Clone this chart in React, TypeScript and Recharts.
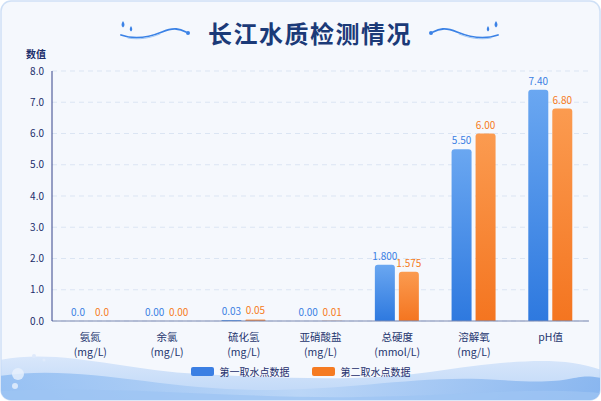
import React from 'react'
import { BarChart, Bar, XAxis, YAxis, CartesianGrid, Legend, LabelList } from 'recharts'

const categories = ['氨氮', '余氯', '硫化氢', '亚硝酸盐', '总硬度', '溶解氧', 'pH值']
const units = ['(mg/L)', '(mg/L)', '(mg/L)', '(mg/L)', '(mmol/L)', '(mg/L)', '']
const site1 = [0.0, 0.0, 0.03, 0.0, 1.8, 5.5, 7.4]
const site2 = [0.0, 0.0, 0.05, 0.01, 1.575, 6.0, 6.8]
const labelDecimals = [1, 2, 2, 2, 3, 2, 2]
const yTicks = [0, 1, 2, 3, 4, 5, 6, 7, 8]
const seriesNames = ['第一取水点数据', '第二取水点数据']

const data = categories.map((name, i) => ({
  name,
  site1: site1[i],
  site2: site2[i],
  label1: site1[i].toFixed(labelDecimals[i]),
  label2: site2[i].toFixed(labelDecimals[i]),
}))

const FONT = '"Noto Sans CJK SC", "Noto Sans", sans-serif'
const NAVY = '#1c2e6b'
const BLUE = '#3b7fe3'
const ORANGE = '#f57b22'

function CategoryTick(props: any) {
  const { x, y, payload, index } = props
  return (
    <g transform={`translate(${x},${y})`}>
      <text x={0} y={12} textAnchor="middle" fontSize={10.5} fill="#24356e" fontFamily={FONT}>
        {payload.value}
      </text>
      {units[index] ? (
        <text x={0} y={27} textAnchor="middle" fontSize={10.5} fill="#24356e" fontFamily={FONT}>
          {units[index]}
        </text>
      ) : null}
    </g>
  )
}

function LegendContent() {
  const colors = [BLUE, ORANGE]
  return (
    <div style={{ display: 'flex', justifyContent: 'center', gap: 22, height: 16, alignItems: 'center', paddingLeft: 4 }}>
      {seriesNames.map((n, i) => (
        <div key={n} style={{ display: 'flex', alignItems: 'center', gap: 6 }}>
          <div style={{ width: 23, height: 9, borderRadius: 2, background: colors[i] }} />
          <span style={{ fontSize: 10, color: NAVY, fontFamily: FONT }}>{n}</span>
        </div>
      ))}
    </div>
  )
}

function Background() {
  return (
    <svg width={601} height={401} style={{ position: 'absolute', left: 0, top: 0 }}>
      <defs>
        <linearGradient id="waveA" x1="0" y1="0" x2="0" y2="1">
          <stop offset="0" stopColor="#cfe1fa" />
          <stop offset="1" stopColor="#a9cbf5" />
        </linearGradient>
        <linearGradient id="waveB" x1="0" y1="0" x2="1" y2="0">
          <stop offset="0" stopColor="#8fbcf2" />
          <stop offset="0.5" stopColor="#b9d5f7" />
          <stop offset="1" stopColor="#7fb0ee" />
        </linearGradient>
        <clipPath id="card">
          <rect x={1} y={1} width={599} height={399} rx={10} />
        </clipPath>
      </defs>
      <rect x={1} y={1} width={599} height={399} rx={10} fill="#f5f8fd" stroke="#cfe0f6" strokeWidth={1.5} />
      <g clipPath="url(#card)">
        <path d="M0 360 C 60 348, 120 370, 200 374 S 360 382, 430 372 S 560 354, 601 370 L 601 401 L 0 401 Z" fill="url(#waveA)" opacity={0.75} />
        <path d="M0 376 C 80 364, 160 390, 260 390 S 420 374, 500 380 S 570 372, 601 378 L 601 401 L 0 401 Z" fill="url(#waveB)" opacity={0.85} />
        <path d="M0 391 C 120 385, 240 399, 360 397 S 520 387, 601 393 L 601 401 L 0 401 Z" fill="#9ec4f3" opacity={0.75} />
        <circle cx={18} cy={374} r={6} fill="#e8f1fd" opacity={0.8} />
        <circle cx={15} cy={386} r={3} fill="#e8f1fd" opacity={0.8} />
        <circle cx={34} cy={356} r={2} fill="#dfeafb" />
        <circle cx={44} cy={360} r={1.5} fill="#dfeafb" />
      </g>
      {/* title ornaments */}
      <path d="M121 35 C 135 40, 150 37, 162 32 S 180 29, 186 32" fill="none" stroke="#3b82e6" strokeWidth={1.8} strokeLinecap="round" />
      <path d="M128 38 C 140 40, 150 38, 160 34" fill="none" stroke="#9cc4f3" strokeWidth={1} strokeLinecap="round" />
      <circle cx={188} cy={33} r={2} fill="#3b82e6" />
      <path d="M123 21 q 3 4 0 6.5 q -3 -2.5 0 -6.5 Z" fill="#3b82e6" />
      <path d="M131 26 q 2.5 3.5 0 5.5 q -2.5 -2 0 -5.5 Z" fill="#3b82e6" />
      <path d="M498 35 C 484 40, 469 37, 457 32 S 439 29, 433 32" fill="none" stroke="#3b82e6" strokeWidth={1.8} strokeLinecap="round" />
      <path d="M491 38 C 479 40, 469 38, 459 34" fill="none" stroke="#9cc4f3" strokeWidth={1} strokeLinecap="round" />
      <circle cx={431} cy={33} r={2} fill="#3b82e6" />
      <path d="M496 21 q 3 4 0 6.5 q -3 -2.5 0 -6.5 Z" fill="#3b82e6" />
      <path d="M488 26 q 2.5 3.5 0 5.5 q -2.5 -2 0 -5.5 Z" fill="#3b82e6" />
    </svg>
  )
}

export default function App() {
  return (
    <div style={{ position: 'absolute', left: 0, top: 0, width: 601, height: 401, fontFamily: FONT }}>
      <Background />
      <div
        style={{
          position: 'absolute',
          left: 0,
          top: 15,
          width: 620,
          textAlign: 'center',
          fontSize: 24,
          lineHeight: '36px',
          fontWeight: 700,
          letterSpacing: 1.5,
          color: '#1b3a78',
        }}
      >
        长江水质检测情况
      </div>
      <div style={{ position: 'absolute', left: 26, top: 46, fontSize: 10, fontWeight: 700, color: NAVY }}>数值</div>
      <div style={{ position: 'absolute', left: 0, top: 0 }}>
        <BarChart
          width={601}
          height={401}
          data={data}
          margin={{ top: 71, right: 12, bottom: 22, left: 8 }}
          barSize={20}
          barGap={4}
        >
          <defs>
            <linearGradient id="gBlue" x1="0" y1="0" x2="0" y2="1">
              <stop offset="0" stopColor="#6aa7f1" />
              <stop offset="1" stopColor="#2e79df" />
            </linearGradient>
            <linearGradient id="gOrange" x1="0" y1="0" x2="0" y2="1">
              <stop offset="0" stopColor="#fb9b50" />
              <stop offset="1" stopColor="#f47520" />
            </linearGradient>
          </defs>
          <CartesianGrid vertical={false} stroke="#dbe5f3" strokeDasharray="5 4" />
          <XAxis
            dataKey="name"
            height={42}
            tickLine={false}
            axisLine={{ stroke: '#7b88b0' }}
            tick={<CategoryTick />}
            interval={0}
          />
          <YAxis
            width={44}
            domain={[0, 8]}
            ticks={yTicks}
            tickLine={false}
            axisLine={{ stroke: '#34438a' }}
            tick={{ fontSize: 10, fill: NAVY, fontFamily: FONT }}
            tickFormatter={(v: number) => v.toFixed(1)}
          />
          <Legend verticalAlign="bottom" height={16} content={<LegendContent />} />
          <Bar
            dataKey="site1"
            name={seriesNames[0]}
            fill="url(#gBlue)"
            radius={[3, 3, 0, 0]}
            minPointSize={0.01}
            isAnimationActive={false}
          >
            <LabelList dataKey="label1" position="top" offset={5} fontSize={10} fill={BLUE} fontFamily={FONT} />
          </Bar>
          <Bar
            dataKey="site2"
            name={seriesNames[1]}
            fill="url(#gOrange)"
            radius={[3, 3, 0, 0]}
            minPointSize={0.01}
            isAnimationActive={false}
          >
            <LabelList dataKey="label2" position="top" offset={5} fontSize={10} fill={ORANGE} fontFamily={FONT} />
          </Bar>
        </BarChart>
      </div>
    </div>
  )
}
